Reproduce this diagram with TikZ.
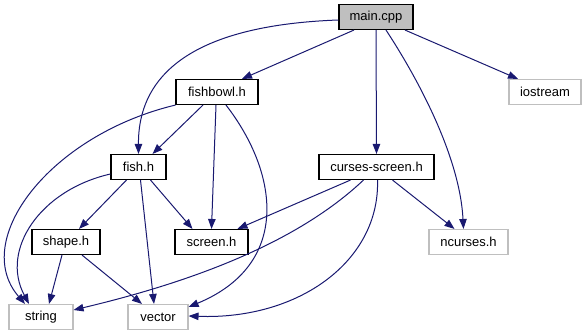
\documentclass[tikz,border=0pt]{standalone}
\usepackage{fontspec}
\setmainfont{Liberation Sans}
\usetikzlibrary{arrows.meta}
\definecolor{edgeblue}{HTML}{191970}
\definecolor{boxgray}{HTML}{BFBFBF}
\begin{document}
\begin{tikzpicture}[x=1pt,y=-1pt,
  file/.style={draw=black, line width=1.1pt, minimum height=25pt, inner sep=0pt,
    font=\fontsize{13}{15}\selectfont},
  extfile/.style={file, draw=boxgray},
  mainfile/.style={file, fill=boxgray},
  dep/.style={draw=edgeblue, line width=1pt, -{Triangle[length=10pt,width=7.5pt]}}]
\useasboundingbox (0,0) rectangle (586,336);

% include files
\node[mainfile, minimum width=74pt] (main)     at (376,17)    {main.cpp};
\node[file,     minimum width=82pt] (fishbowl) at (217,92)    {fishbowl.h};
\node[extfile,  minimum width=72pt] (iostream) at (545,92)    {iostream};
\node[file,     minimum width=55pt] (fish)     at (138.5,167) {fish.h};
\node[file,     minimum width=115pt](curses)   at (376.5,167) {curses-screen.h};
\node[file,     minimum width=68pt] (shape)    at (66,242)    {shape.h};
\node[file,     minimum width=73pt] (screen)   at (211.5,242) {screen.h};
\node[extfile,  minimum width=79pt] (ncurses)  at (468.5,242) {ncurses.h};
\node[extfile,  minimum width=64pt] (string)   at (41,317)    {string};
\node[extfile,  minimum width=60pt] (vector)   at (158,317)   {vector};

% dependencies of main.cpp
\draw[dep] ([xshift=-22pt]main.south) -- ([xshift=25pt]fishbowl.north);
\draw[dep] ([yshift=-3pt]main.west) .. controls (200,25) and (138,70) .. (fish.north);
\draw[dep] (main.south) -- (curses.north);
\draw[dep] ([xshift=10pt]main.south) .. controls (422,85) and (460,160) .. ([xshift=-5pt]ncurses.north);
\draw[dep] ([xshift=29pt]main.south) -- ([xshift=-27pt]iostream.north);

% dependencies of fishbowl.h
\draw[dep] ([xshift=-14pt]fishbowl.south) -- ([xshift=14pt]fish.north);
\draw[dep] ([xshift=-1pt]fishbowl.south) -- (screen.north);
\draw[dep] ([xshift=9pt]fishbowl.south) .. controls (280,175) and (290,265) .. ([yshift=10pt]vector.east);
\draw[dep] (fishbowl.south west) .. controls (50,135) and (-30,240) .. ([xshift=-16pt]string.north);

% dependencies of fish.h
\draw[dep] ([xshift=-12pt]fish.south) -- ([xshift=13pt]shape.north);
\draw[dep] ([xshift=12pt]fish.south) -- ([xshift=-19pt]screen.north);
\draw[dep] ([xshift=2pt]fish.south) -- ([xshift=-4pt]vector.north);
\draw[dep] ([yshift=-7pt]fish.west) .. controls (40,190) and (0,250) .. ([xshift=-12pt]string.north);

% dependencies of shape.h
\draw[dep] ([xshift=-4pt]shape.south) -- ([xshift=8pt]string.north);
\draw[dep] ([xshift=16pt]shape.south) -- ([xshift=-16pt]vector.north);

% dependencies of curses-screen.h
\draw[dep] ([xshift=-26pt]curses.south) -- ([xshift=26pt]screen.north);
\draw[dep] ([xshift=-13pt]curses.south) .. controls (300,240) and (200,280) .. ([yshift=7pt]string.east);
\draw[dep] ([xshift=1pt]curses.south) .. controls (380,260) and (300,320) .. ([yshift=1pt]vector.east);
\draw[dep] ([xshift=16pt]curses.south) -- ([xshift=-14pt]ncurses.north);
\end{tikzpicture}
\end{document}
